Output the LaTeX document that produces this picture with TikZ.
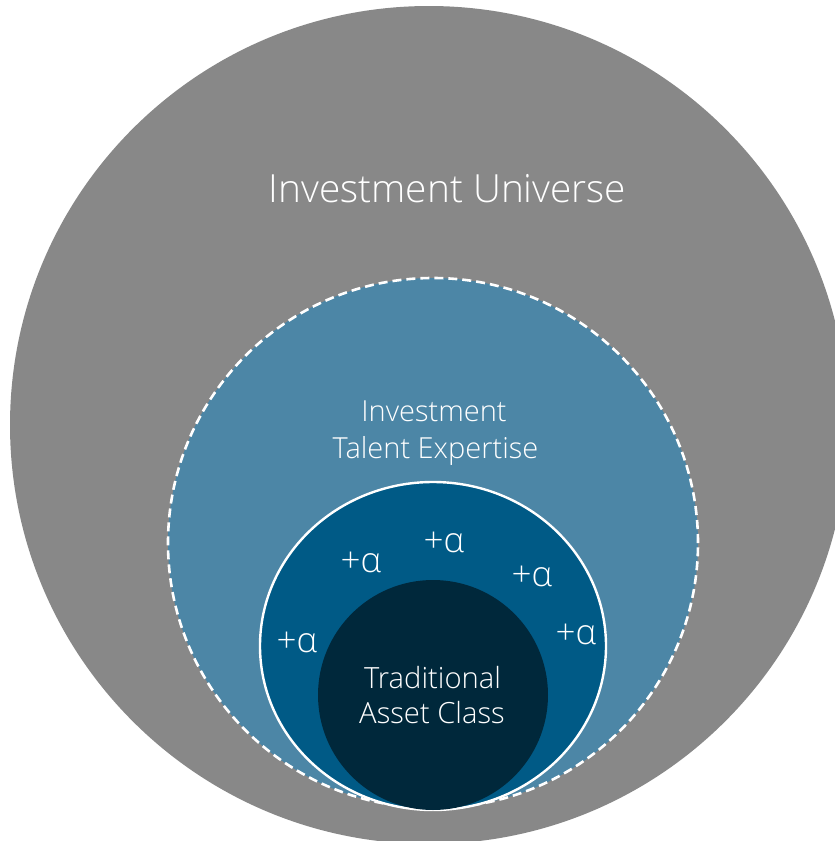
\documentclass[tikz,border=0pt]{standalone}
\usepackage{fontspec}
\IfFontExistsTF{Open Sans Light}{\setmainfont{Open Sans Light}}{\setmainfont{Open Sans}}
\definecolor{universe}{HTML}{888888}
\definecolor{talent}{HTML}{4C86A6}
\definecolor{alphablue}{HTML}{005A86}
\definecolor{navy}{HTML}{00283B}
\tikzset{
  lbl/.style={text=white, inner sep=0pt, anchor=base},
  alph/.style={text=white, inner sep=0pt, font=\fontsize{35}{40}\selectfont},
}
\begin{document}
\begin{tikzpicture}[x=1pt,y=-1pt]
\useasboundingbox (0,0) rectangle (835,841);
\clip (0,0) rectangle (835,841);
% outer universe
\fill[universe] (429,425) circle [radius=419pt];
% talent expertise (dashed)
\fill[talent] (433,543) circle [radius=265pt];
\draw[white, line width=2.6pt, dash pattern=on 9pt off 5pt] (433,543) circle [radius=265pt];
% alpha ring
\fill[alphablue] (433,646) circle [x radius=173pt, y radius=164pt];
\draw[white, line width=2.4pt] (433,646) circle [x radius=173pt, y radius=164pt];
% traditional core
\fill[navy] (433,695) circle [radius=115pt];
% labels
\node[lbl, font=\fontsize{38.8}{44}\selectfont] (univ) at (447.5,202) {Investment Universe};
\node[lbl, font=\fontsize{29}{34}\selectfont] (tal1) at (434,421.5) {Investment};
\node[lbl, font=\fontsize{29}{34}\selectfont] (tal2) at (435.5,458) {Talent Expertise};
\node[lbl, font=\fontsize{29.2}{34}\selectfont] (trad1) at (432.5,688) {Traditional};
\node[lbl, font=\fontsize{29.2}{34}\selectfont] (trad2) at (432,723) {Asset Class};
\node[alph] (a1) at (444,542.5) {+α};
\node[alph] (a2) at (361,562.5) {+α};
\node[alph] (a3) at (532,576) {+α};
\node[alph] (a4) at (297,642.5) {+α};
\node[alph] (a5) at (576,634) {+α};
\end{tikzpicture}
\end{document}
